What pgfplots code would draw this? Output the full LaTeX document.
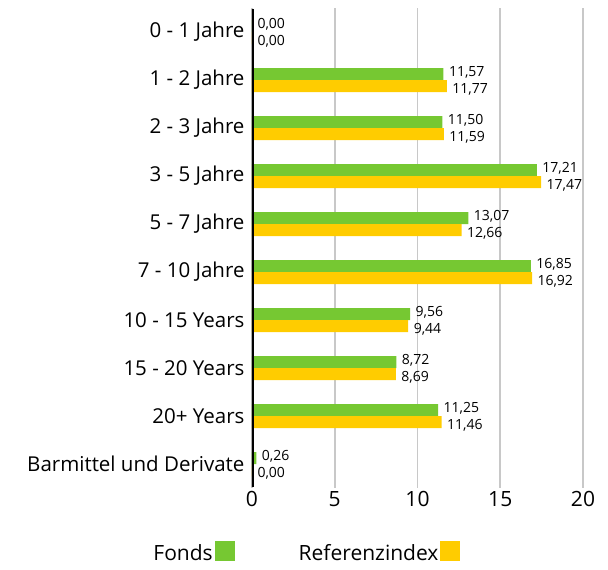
\documentclass[border=0pt]{standalone}
\usepackage{pgfplots}
\pgfplotsset{compat=1.18}
\usepackage{fontspec}
\setmainfont{Open Sans}
\definecolor{fgreen}{RGB}{118,200,50}
\definecolor{fyellow}{RGB}{255,204,0}
\definecolor{gridgray}{RGB}{200,200,200}
\begin{document}
\begin{tikzpicture}
\path[use as bounding box] (-252bp,-82bp) rectangle (356bp,488bp);
\begin{axis}[
  at={(0,0)}, anchor=south west,
  scale only axis, width=331bp, height=480bp,
  xmin=0, xmax=20, ymin=-0.5, ymax=9.5,
  y dir=reverse,
  xbar, bar width=12bp,
  axis line style={draw=none},
  xtick={0,5,10,15,20},
  ytick={0,...,9},
  yticklabels={0 - 1 Jahre,1 - 2 Jahre,2 - 3 Jahre,3 - 5 Jahre,5 - 7 Jahre,7 - 10 Jahre,10 - 15 Years,15 - 20 Years,20+ Years,Barmittel und Derivate},
  major tick length=0pt,
  xmajorgrids, grid style={gridgray, line width=1.8bp},
  /pgf/number format/assume math mode=true,
  yticklabel style={font=\fontsize{20.5bp}{22bp}\selectfont, xshift=-4bp},
  xticklabel style={font=\fontsize{21bp}{22bp}\selectfont, yshift=0bp},
  nodes near coords,
  nodes near coords style={font=\fontsize{14bp}{15bp}\selectfont, black, /pgf/number format/fixed, /pgf/number format/fixed zerofill, /pgf/number format/precision=2, /pgf/number format/use comma, /pgf/number format/assume math mode=true},
  legend plot pos=right,
  legend columns=2,
  legend style={draw=none, fill=none, at={(0.163,-0.135)}, anchor=center, font=\fontsize{21bp}{22bp}\selectfont, /tikz/every even column/.append style={column sep=62bp}},
  legend image code/.code={\fill[#1, draw=none] (7bp,-8bp) rectangle (27bp,12bp);},
]
\addplot[fill=fgreen, draw=none, bar shift=6bp, nodes near coords style={anchor=west, xshift=2bp, yshift=2bp}] coordinates {
(0,0) (11.57,1) (11.50,2) (17.21,3) (13.07,4) (16.85,5) (9.56,6) (8.72,7) (11.25,8) (0.26,9)};
\addlegendentry{Fonds}
\addplot[fill=fyellow, draw=none, bar shift=-6bp, nodes near coords style={anchor=west, xshift=2bp, yshift=-3bp}] coordinates {
(0,0) (11.77,1) (11.59,2) (17.47,3) (12.66,4) (16.92,5) (9.44,6) (8.69,7) (11.46,8) (0,9)};
\addlegendentry{Referenzindex}
\draw[black, line width=3.5bp] (axis cs:0,-0.48) -- (axis cs:0,9.48);
\end{axis}
\end{tikzpicture}
\end{document}
